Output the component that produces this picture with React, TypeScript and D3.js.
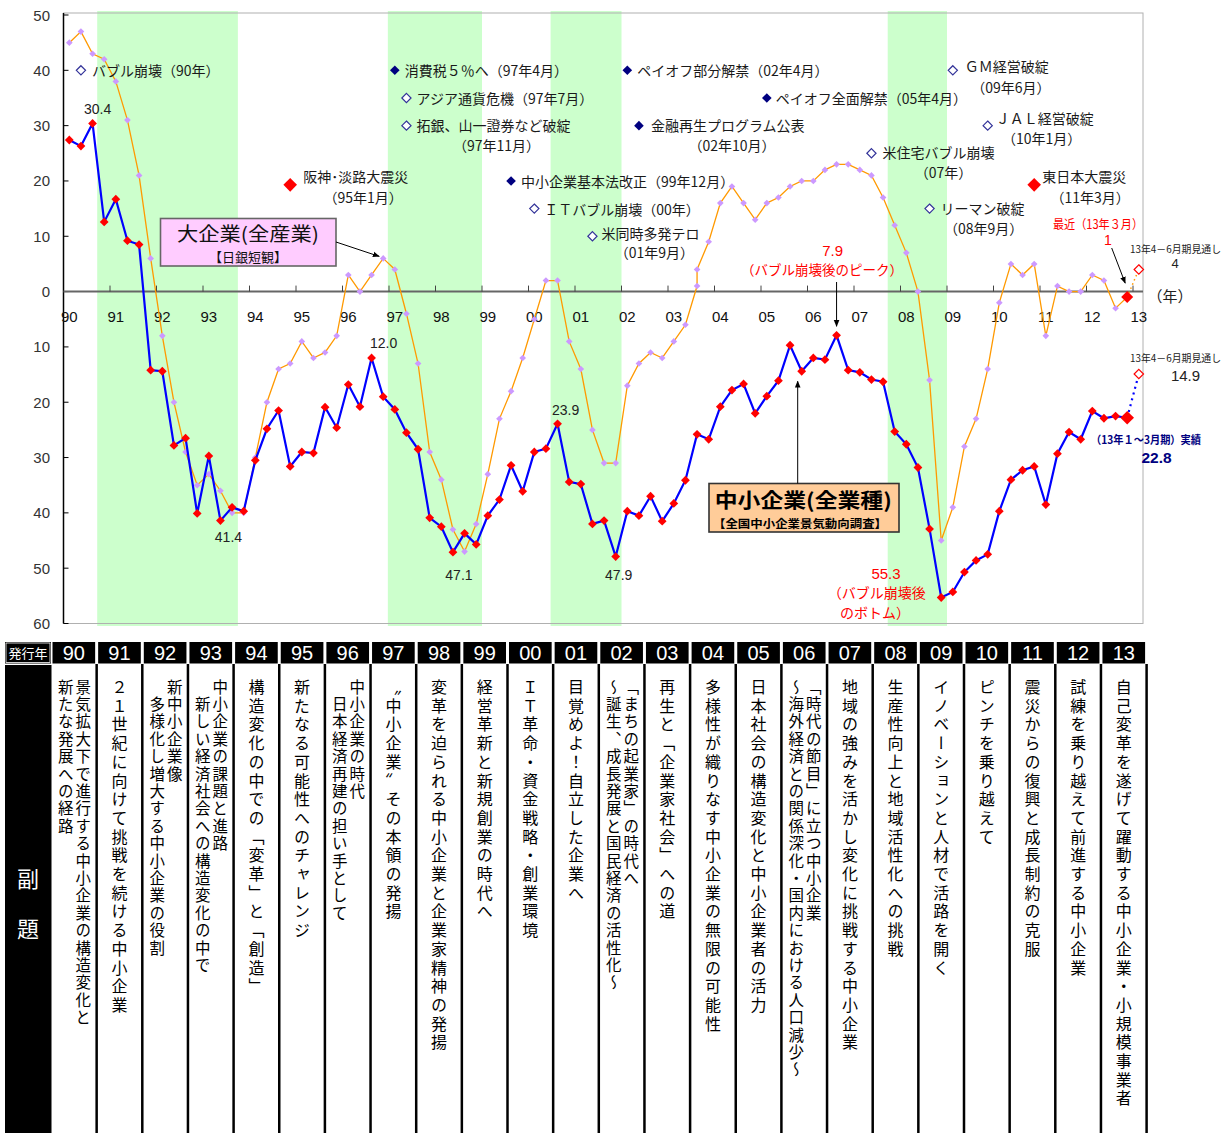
import React from 'react';
import * as d3 from 'd3';

const W = 1226;
const H = 1133;

const yearLabels = ['90','91','92','93','94','95','96','97','98','99','00','01','02','03','04','05','06','07','08','09','10','11','12','13'];

// 中小企業（全業種）業況DI  quarterly, first = 90年, last = 13年1～3月期
const smeDI = [27.4, 26.3, 30.4, 12.6, 16.7, 9.2, 8.5, -14.2, -14.4, -27.8, -26.5, -40.1, -29.7, -41.4, -39.0, -39.7,
  -30.5, -24.8, -21.5, -31.6, -29.0, -29.2, -20.9, -24.6, -16.8, -20.8, -12.0, -19.0, -21.3, -25.5, -28.5, -40.9,
  -42.5, -47.1, -43.7, -45.7, -40.5, -37.6, -31.4, -36.1, -29.0, -28.4, -23.9, -34.4, -34.8, -42.0, -41.4, -47.9,
  -39.7, -40.5, -37.0, -41.5, -38.3, -34.1, -25.8, -26.7, -20.8, -17.8, -16.7, -22.0, -18.9, -16.1, -9.7, -14.4,
  -12.0, -12.3, -7.9, -14.2, -14.6, -15.9, -16.3, -25.3, -27.6, -31.8, -42.9, -55.3, -54.3, -50.7, -48.6, -47.5,
  -39.7, -34.0, -32.3, -31.6, -38.5, -29.3, -25.4, -26.7, -21.6, -22.9, -22.5, -22.8];
const smeForecast = -14.9;

// 大企業（全産業）日銀短観  (one quarter carries two readings)
const largeDI = [45, 47, 43, 42, 38, 31, 21, 6, -8, -20, -29, -35, -33, -36, -40, -40,
  -30, -20, -14, -13, -9, -12, -11, -8, 3, 0, 3, 6, 4, -4, -13, -29,
  -34, -43, -47, -42, -33, -23, -18, -12, -5, 2, 2, -9, -14, -25, -31, -31,
  -17, -13, -11, -12, -9, -6, 1, 4, 9, 16, 19, 16, 13, 16, 17, 19,
  20, 20, 22, 23, 23, 22, 21, 17, 12, 7, 0, -16, -45, -39, -28, -23,
  -14, -2, 5, 3, 5, -8, 1, 0, 0, 3, 2, -3, -1];
const largeRepeatIndex = 55; // this reading shares the quarter of the previous one
const largeForecast = 4;

const yTickValues = [50, 40, 30, 20, 10, 0, -10, -20, -30, -40, -50, -60];
const recessionQuarters = [[2.9, 15], [27.9, 36], [41.9, 48], [70.9, 76]];

const valueLabels = ['30.4', '41.4', '12.0', '47.1', '23.9', '47.9'];

const eventTexts = [
  { text: 'バブル崩壊（90年）', sub: '', quarter: 1, kind: 'open' },
  { text: '消費税５％へ（97年4月）', sub: '', quarter: 28, kind: 'solid' },
  { text: 'アジア通貨危機（97年7月）', sub: '', quarter: 29, kind: 'open' },
  { text: '拓銀、山一證券など破綻', sub: '（97年11月）', quarter: 29, kind: 'open' },
  { text: 'ペイオフ部分解禁（02年4月）', sub: '', quarter: 48, kind: 'solid' },
  { text: 'ペイオフ全面解禁（05年4月）', sub: '', quarter: 60, kind: 'solid' },
  { text: '金融再生プログラム公表', sub: '（02年10月）', quarter: 49, kind: 'solid' },
  { text: '中小企業基本法改正（99年12月）', sub: '', quarter: 38, kind: 'solid' },
  { text: 'ＩＴバブル崩壊（00年）', sub: '', quarter: 40, kind: 'open' },
  { text: '米同時多発テロ', sub: '（01年9月）', quarter: 45, kind: 'open' },
  { text: 'ＧＭ経営破綻', sub: '（09年6月）', quarter: 76, kind: 'open' },
  { text: 'ＪＡＬ経営破綻', sub: '（10年1月）', quarter: 79, kind: 'open' },
  { text: '米住宅バブル崩壊', sub: '（07年）', quarter: 69, kind: 'open' },
  { text: 'リーマン破綻', sub: '（08年9月）', quarter: 74, kind: 'open' },
  { text: '東日本大震災', sub: '（11年3月）', quarter: 83, kind: 'quake' },
  { text: '阪神･淡路大震災', sub: '（95年1月）', quarter: 19, kind: 'quake' },
];
// layout for the events: level on the y scale, text offsets (px)
const eventLayout = [
  [40, 11, 0, 0, 0], [40, 10, 0, 0, 0], [35, 10, 0, 0, 0], [30, 10, -1, 90, 19],
  [40, 10, 0, 0, 0], [35, 9, 0, 0, 0], [30, 12, -1, 93, 19.5], [20, 10, 0, 0, 0],
  [15, 10, 0, 0, 0], [10, 9, -3, 62, 16], [40, 12, -4, 58, 16.5], [30, 8, -8, 54, 12],
  [25, 11, -1, 72, 19], [15, 11, -1, 54, 19], [19.3, 8, -8.5, 56, 12], [19.3, 13, -8.5, 73, 12],
];

const subtitles = [
  ['景気拡大下で進行する中小企業の構造変化と', '新たな発展への経路'],
  ['２１世紀に向けて挑戦を続ける中小企業'],
  ['新中小企業像', '　多様化し増大する中小企業の役割'],
  ['中小企業の課題と進路', '　新しい経済社会への構造変化の中で'],
  ['構造変化の中での「変革」と「創造」'],
  ['新たなる可能性へのチャレンジ'],
  ['中小企業の時代', '　日本経済再建の担い手として'],
  ['〝中小企業〟その本領の発揚'],
  ['変革を迫られる中小企業と企業家精神の発揚'],
  ['経営革新と新規創業の時代へ'],
  ['ＩＴ革命・資金戦略・創業環境'],
  ['目覚めよ！自立した企業へ'],
  ['「まちの起業家」の時代へ', '～誕生、成長発展と国民経済の活性化～'],
  ['再生と「企業家社会」への道'],
  ['多様性が織りなす中小企業の無限の可能性'],
  ['日本社会の構造変化と中小企業者の活力'],
  ['「時代の節目」に立つ中小企業', '～海外経済との関係深化・国内における人口減少～'],
  ['地域の強みを活かし変化に挑戦する中小企業'],
  ['生産性向上と地域活性化への挑戦'],
  ['イノベーションと人材で活路を開く'],
  ['ピンチを乗り越えて'],
  ['震災からの復興と成長制約の克服'],
  ['試練を乗り越えて前進する中小企業'],
  ['自己変革を遂げて躍動する中小企業・小規模事業者'],
];

const JP = "'Noto Sans CJK JP', 'Noto Sans', sans-serif";
const NUM = "'Liberation Sans', Arial, sans-serif";

const diamond = (cx: number, cy: number, r: number) =>
  `M${cx},${cy - r}L${cx + r},${cy}L${cx},${cy + r}L${cx - r},${cy}Z`;

export default function App() {
  const x = d3.scaleLinear().domain([0, 92.86]).range([63.5, 1143]);
  const y = d3.scaleLinear().domain([-60, 50]).range([623.5, 15]);
  const px = (q: number) => x(q + 0.5);

  const smePts: [number, number][] = smeDI.map((v, i) => [px(i), y(v)]);
  const largePts: [number, number][] = largeDI.map((v, i) => [px(i < largeRepeatIndex ? i : i - 1), y(v)]);
  const line = d3.line();
  const lastQ = smeDI.length - 1;
  const smeLast = smePts[smePts.length - 1];
  const largeLast = largePts[largePts.length - 1];
  const smeF: [number, number] = [px(lastQ + 1), y(smeForecast)];
  const largeF: [number, number] = [px(lastQ + 1), y(largeForecast)];

  const colX = d3.scaleLinear().domain([0, 24]).range([51, 1146.6]);
  const zeroY = y(0);

  // value labels anchored to the points they describe
  const valueLabelPos = [
    [smePts[2][0] + 5, smePts[2][1] - 14],
    [smePts[13][0] + 8, smePts[13][1] + 16],
    [smePts[26][0] + 12, smePts[26][1] - 15],
    [smePts[33][0] + 6, smePts[33][1] + 23],
    [smePts[42][0] + 8, smePts[42][1] - 14],
    [smePts[47][0] + 3, smePts[47][1] + 18],
  ];

  return (
    <svg width={W} height={H} style={{ position: 'absolute', left: 0, top: 0, background: '#fff' }}>
      <defs>
        <marker id="arr" viewBox="0 0 10 10" refX="9" refY="5" markerWidth="7" markerHeight="7" orient="auto">
          <path d="M0,1L10,5L0,9Z" fill="#000" />
        </marker>
      </defs>
      <rect x={0} y={0} width={W} height={H} fill="#fff" />

      {/* recession bands */}
      {recessionQuarters.map(([a, b], i) => (
        <rect key={i} x={x(a)} y={11} width={x(b) - x(a)} height={615} fill="#ccffcc" />
      ))}

      {/* plot border */}
      <rect x={63.5} y={13} width={1143 - 63.5} height={610.5} fill="none" stroke="#b0b0b0" strokeWidth={1} />

      {/* y axis */}
      <line x1={63.5} x2={63.5} y1={13} y2={623.5} stroke="#000" strokeWidth={1.5} />
      {yTickValues.map((v) => (
        <g key={v}>
          <line x1={63.5} x2={68.5} y1={y(v)} y2={y(v)} stroke="#000" strokeWidth={1} />
          <text x={50} y={y(v)} textAnchor="end" dominantBaseline="central" fontFamily={NUM} fontSize={15} fill="#333">
            {Math.abs(v)}
          </text>
        </g>
      ))}

      {/* zero line and year ticks */}
      <line x1={63.5} x2={1143} y1={zeroY} y2={zeroY} stroke="#666" strokeWidth={2} />
      {yearLabels.map((lab, k) => (
        <g key={lab}>
          {k > 0 && <line x1={x(4 * k)} x2={x(4 * k)} y1={zeroY - 6} y2={zeroY} stroke="#444" strokeWidth={1} />}
          <text x={x(4 * k + 0.5)} y={316} textAnchor="middle" dominantBaseline="central" fontFamily={NUM} fontSize={15} fill="#111">
            {lab}
          </text>
        </g>
      ))}
      <text x={1170} y={295} textAnchor="middle" dominantBaseline="central" fontFamily={JP} fontSize={15} fill="#222">（年）</text>

      {/* large enterprises */}
      <path d={line(largePts) || ''} fill="none" stroke="#ff9900" strokeWidth={1.3} />
      <path d={line([largeLast, largeF]) || ''} fill="none" stroke="#ff9900" strokeWidth={1.5} strokeDasharray="1.5,3" />
      {largePts.slice(0, -1).map((p, i) => (
        <path key={i} d={diamond(p[0], p[1], 3.3)} fill="#cc99ff" />
      ))}
      <path d={diamond(largeLast[0], largeLast[1], 6)} fill="#ff0000" />
      <path d={diamond(largeF[0], largeF[1], 4.7)} fill="#fff" stroke="#ff0000" strokeWidth={1.2} />

      {/* SMEs */}
      <path d={line(smePts) || ''} fill="none" stroke="#0000ff" strokeWidth={2.2} />
      <path d={line([smeLast, smeF]) || ''} fill="none" stroke="#0000ff" strokeWidth={2.2} strokeDasharray="2,4" />
      {smePts.slice(0, -1).map((p, i) => (
        <path key={i} d={diamond(p[0], p[1], 4.4)} fill="#ff0000" />
      ))}
      <path d={diamond(smeLast[0], smeLast[1], 6.8)} fill="#ff0000" />
      <path d={diamond(smeF[0], smeF[1], 4.7)} fill="#fff" stroke="#ff0000" strokeWidth={1.2} />

      {/* value labels */}
      {valueLabels.map((t, i) => (
        <text key={t} x={valueLabelPos[i][0]} y={valueLabelPos[i][1]} textAnchor="middle" dominantBaseline="central"
          fontFamily={NUM} fontSize={14} fill="#222">{t}</text>
      ))}

      {/* peak / bottom labels */}
      <text x={832.7} y={250} textAnchor="middle" dominantBaseline="central" fontFamily={NUM} fontSize={15} fill="#ff0000">7.9</text>
      <text x={822} y={268.5} textAnchor="middle" dominantBaseline="central" fontFamily={JP} fontSize={13.5} fill="#ff0000">（バブル崩壊後のピーク）</text>
      <line x1={px(66)} x2={px(66)} y1={282} y2={y(smeDI[66]) - 9} stroke="#000" strokeWidth={1} markerEnd="url(#arr)" />
      <text x={886} y={573.3} textAnchor="middle" dominantBaseline="central" fontFamily={NUM} fontSize={15} fill="#ff0000">55.3</text>
      <text x={876.7} y={591.7} textAnchor="middle" dominantBaseline="central" fontFamily={JP} fontSize={14} fill="#ff0000">（バブル崩壊後</text>
      <text x={875} y={611.7} textAnchor="middle" dominantBaseline="central" fontFamily={JP} fontSize={14} fill="#ff0000">のボトム）</text>

      {/* latest */}
      <text x={1098} y={223} textAnchor="middle" dominantBaseline="central" fontFamily={JP} fontSize={12.5} fill="#ff0000" textLength={90} lengthAdjust="spacingAndGlyphs">最近（13年３月）</text>
      <text x={1108} y={240} textAnchor="middle" dominantBaseline="central" fontFamily={NUM} fontSize={14} fill="#ff0000">1</text>
      <line x1={1111.7} y1={248} x2={largeLast[0] - 2} y2={largeLast[1] - 14} stroke="#000" strokeWidth={1} markerEnd="url(#arr)" />
      <text x={1175.5} y={248} textAnchor="middle" dominantBaseline="central" fontFamily={JP} fontSize={10} fill="#222" textLength={91} lengthAdjust="spacingAndGlyphs">13年4－6月期見通し</text>
      <text x={1175} y={263.5} textAnchor="middle" dominantBaseline="central" fontFamily={NUM} fontSize={13} fill="#222">4</text>
      <text x={1175.5} y={357} textAnchor="middle" dominantBaseline="central" fontFamily={JP} fontSize={10} fill="#222" textLength={91} lengthAdjust="spacingAndGlyphs">13年4－6月期見通し</text>
      <text x={1185.5} y={375} textAnchor="middle" dominantBaseline="central" fontFamily={NUM} fontSize={15} fill="#222">14.9</text>
      <text x={1146} y={439} textAnchor="middle" dominantBaseline="central" fontFamily={JP} fontSize={11} fontWeight="bold" fill="#000080" textLength={110} lengthAdjust="spacingAndGlyphs">（13年１～3月期）実績</text>
      <text x={1156.5} y={457} textAnchor="middle" dominantBaseline="central" fontFamily={NUM} fontSize={15.5} fontWeight="bold" fill="#000080">22.8</text>

      {/* events */}
      {eventTexts.map((ev, i) => {
        const [lv, dx, dy, sdx, sdy] = eventLayout[i];
        const cx = px(ev.quarter);
        const cy = y(lv);
        return (
          <g key={i}>
            {ev.kind === 'open' && <path d={diamond(cx, cy, 4.6)} fill="#fff" stroke="#333399" strokeWidth={1.2} />}
            {ev.kind === 'solid' && <path d={diamond(cx, cy, 4.8)} fill="#000080" />}
            {ev.kind === 'quake' && <path d={diamond(cx, cy, 6.8)} fill="#ff0000" />}
            <text x={cx + dx} y={cy + dy} dominantBaseline="central" fontFamily={JP} fontSize={14} fill="#1a1a1a">{ev.text}</text>
            {ev.sub && (
              <text x={cx + sdx} y={cy + sdy} textAnchor="middle" dominantBaseline="central" fontFamily={JP} fontSize={14} fill="#1a1a1a">{ev.sub}</text>
            )}
          </g>
        );
      })}

      {/* series boxes */}
      <rect x={160.5} y={218.5} width={175.5} height={47.5} fill="#ffccff" stroke="#666" strokeWidth={1.6} />
      <text x={248} y={232} textAnchor="middle" dominantBaseline="central" fontFamily={JP} fontSize={19} fill="#111" textLength={142} lengthAdjust="spacingAndGlyphs">大企業(全産業)</text>
      <text x={248} y={256} textAnchor="middle" dominantBaseline="central" fontFamily={JP} fontSize={13} fill="#111" textLength={78} lengthAdjust="spacingAndGlyphs">【日銀短観】</text>
      <line x1={336} y1={242} x2={largePts[27][0] - 4} y2={largePts[27][1] - 2} stroke="#000" strokeWidth={1} markerEnd="url(#arr)" />

      <rect x={709} y={483.5} width={190} height={48.5} fill="#ffcc99" stroke="#333" strokeWidth={1.6} />
      <text x={803.3} y={499} textAnchor="middle" dominantBaseline="central" fontFamily={JP} fontSize={20} fontWeight="bold" fill="#000" textLength={177} lengthAdjust="spacingAndGlyphs">中小企業(全業種)</text>
      <text x={800} y={522.5} textAnchor="middle" dominantBaseline="central" fontFamily={JP} fontSize={11.5} fontWeight="bold" fill="#000" textLength={174} lengthAdjust="spacingAndGlyphs">【全国中小企業景気動向調査】</text>
      <line x1={797.7} y1={483.5} x2={797.7} y2={smePts[63][1] + 10} stroke="#000" strokeWidth={1} markerEnd="url(#arr)" />

      {/* table */}
      <rect x={5} y={642} width={46} height={21.5} fill="#000" />
      <rect x={6} y={643} width={44} height={19.5} fill="none" stroke="#fff" strokeWidth={0.8} />
      <text x={28} y={652.5} textAnchor="middle" dominantBaseline="central" fontFamily={JP} fontSize={13} fill="#fff">発行年</text>
      {yearLabels.map((lab, k) => (
        <g key={lab}>
          <rect x={colX(k) + 1.5} y={642} width={colX(k + 1) - colX(k) - 3} height={21.5} fill="#000" />
          <text x={(colX(k) + colX(k + 1)) / 2} y={653} textAnchor="middle" dominantBaseline="central" fontFamily={NUM} fontSize={20} fill="#fff">{lab}</text>
        </g>
      ))}
      <rect x={5} y={665} width={46.5} height={H - 665} fill="#000" />
      <text x={28} y={877} textAnchor="middle" dominantBaseline="central" fontFamily={JP} fontSize={22} fill="#fff">副</text>
      <text x={28} y={927} textAnchor="middle" dominantBaseline="central" fontFamily={JP} fontSize={22} fill="#fff">題</text>
      {d3.range(1, 25).map((k) => (
        <line key={k} x1={colX(k)} x2={colX(k)} y1={664} y2={H} stroke="#000" strokeWidth={2.5} />
      ))}
      {subtitles.map((lines, k) => {
        const c = (colX(k) + colX(k + 1)) / 2;
        const two = lines.length > 1;
        return lines.map((t, j) => {
          const xx = !two ? c : j === 0 ? c + 9.5 : c - 8;
          return (
            <text key={k + '-' + j} x={xx} y={679} fontFamily={JP} fontSize={two ? 15.5 : 16} letterSpacing={two ? 1.9 : 2.7} fill="#000"
              style={{ writingMode: 'vertical-rl' as any }}>
              {t}
            </text>
          );
        });
      })}
    </svg>
  );
}
